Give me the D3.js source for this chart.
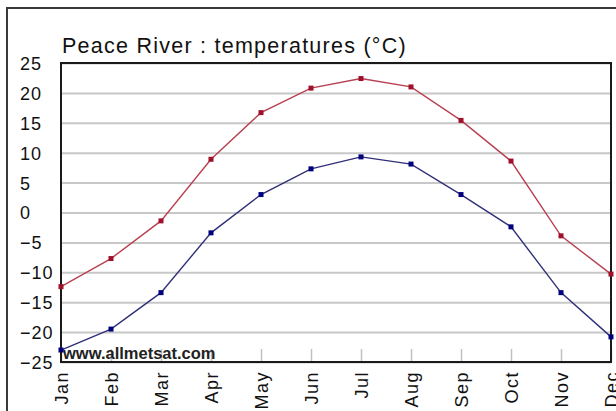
<!DOCTYPE html>
<html>
<head>
<meta charset="utf-8">
<script src="https://cdn.jsdelivr.net/npm/d3@7"></script>
<style>
  body { margin: 0; background: #fff; }
  svg { display: block; font-family: "Liberation Sans", Arial, sans-serif; }
</style>
</head>
<body>
<svg id="chart" width="616" height="411"></svg>
<script>
const months = ["Jan","Feb","Mar","Apr","May","Jun","Jul","Aug","Sep","Oct","Nov","Dec"];
const maxTemps = [-12.4, -7.7, -1.4, 8.9, 16.7, 20.8, 22.4, 21.0, 15.4, 8.6, -3.9, -10.3];
const minTemps = [-23.0, -19.5, -13.4, -3.4, 3.0, 7.3, 9.3, 8.1, 3.0, -2.4, -13.4, -20.8];
const yTicks = [25, 20, 15, 10, 5, 0, -5, -10, -15, -20, -25];

const svg = d3.select("#chart");
const plotLeft = 61, plotRight = 611, plotTop = 63, plotBottom = 362;

// outer frame
svg.append("rect").attr("x", 7).attr("y", 8).attr("width", 700).attr("height", 500)
   .attr("fill", "none").attr("stroke", "#3a3a3a").attr("stroke-width", 2);

let x = d3.scalePoint().domain(months).range([plotLeft, plotRight]);
let y = d3.scaleLinear().domain([-25, 25]).range([plotBottom, plotTop]);

// horizontal grid
svg.append("g")
   .attr("transform", `translate(${plotLeft},0)`)
   .call(d3.axisLeft(y).tickValues(yTicks).tickSize(-(plotRight - plotLeft)).tickFormat(""))
   .call(g => g.select(".domain").remove())
   .call(g => g.selectAll("line").attr("stroke", "#c8c8c8").attr("stroke-width", 2));

// y labels, left aligned
svg.append("g")
   .attr("transform", `translate(${plotLeft},0)`)
   .call(d3.axisLeft(y).tickValues(yTicks).tickSize(0).tickPadding(0))
   .call(g => g.select(".domain").remove())
   .call(g => g.selectAll("text")
      .attr("x", 20 - plotLeft).attr("text-anchor", "start").attr("dy", "0.36em")
      .attr("fill", "#111").style("font-size", "18px").style("letter-spacing", "1px")
      .style("font-family", "Liberation Sans, Arial, sans-serif"));

// month ticks and labels
svg.append("g")
   .attr("transform", `translate(0,${plotBottom})`)
   .call(d3.axisBottom(x).tickSize(-13).tickPadding(0))
   .call(g => g.select(".domain").remove())
   .call(g => g.selectAll("line").attr("stroke", "#c0c0c0").attr("stroke-width", 1.5))
   .call(g => g.selectAll("text")
      .attr("transform", "rotate(-90)")
      .attr("x", -9).attr("y", 0).attr("dy", "0.36em")
      .attr("text-anchor", "end").attr("fill", "#111")
      .style("font-size", "18px").style("letter-spacing", "1.5px")
      .style("font-family", "Liberation Sans, Arial, sans-serif"));

// plot frame
svg.append("rect").attr("x", plotLeft).attr("y", plotTop)
   .attr("width", plotRight - plotLeft).attr("height", plotBottom - plotTop)
   .attr("fill", "none").attr("stroke", "#1a1a1a").attr("stroke-width", 2);

// title
svg.append("text").attr("x", 62).attr("y", 53)
   .attr("fill", "#111").style("font-size", "21.5px").style("letter-spacing", "1.25px")
   .text("Peace River : temperatures (°C)");

// watermark
svg.append("text").attr("x", 63).attr("y", 359)
   .attr("fill", "#222").style("font-size", "16.5px").style("font-weight", "bold")
   .text("www.allmetsat.com");

function drawSeries(values, lineColor, dotColor) {
    let line = d3.line().x((d, i) => x(months[i])).y(d => y(d));
    svg.append("path").datum(values)
       .attr("d", line).attr("fill", "none")
       .attr("stroke", lineColor).attr("stroke-width", 1.4);
    svg.append("g").selectAll("rect")
       .data(values).enter().append("rect")
       .attr("x", (d, i) => x(months[i]) - 2.5)
       .attr("y", d => y(d) - 2.5)
       .attr("width", 5).attr("height", 5)
       .attr("fill", dotColor);
}
drawSeries(maxTemps, "#b84050", "#a0102a");
drawSeries(minTemps, "#303078", "#00007f");
</script>
</body>
</html>
